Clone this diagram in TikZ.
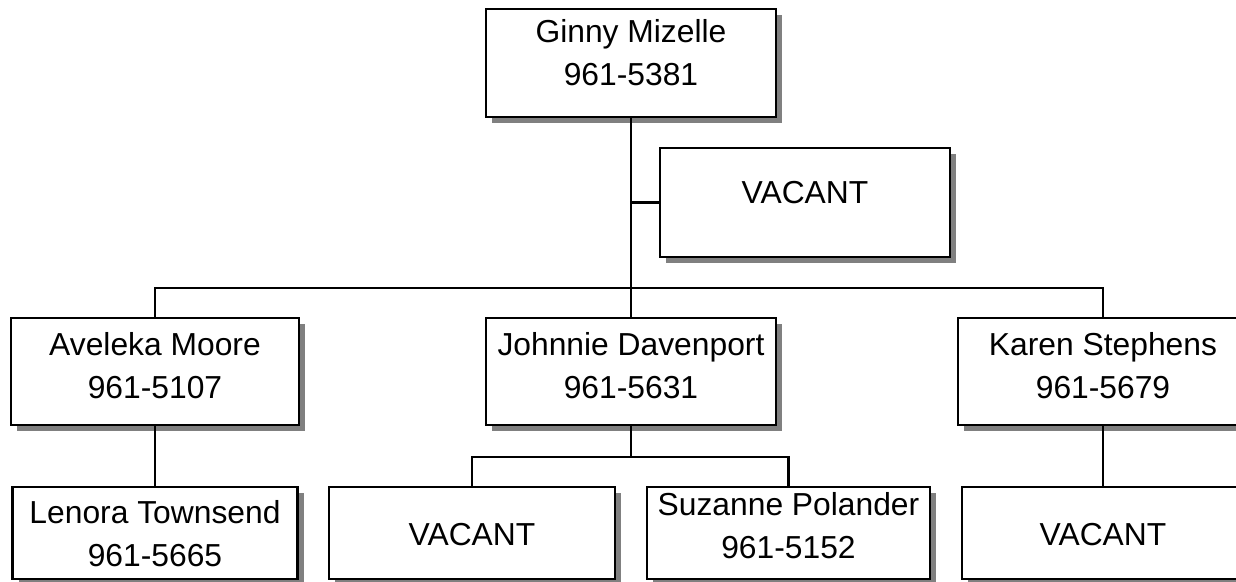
\documentclass[tikz,border=0pt]{standalone}
\usepackage{fontspec}
\setmainfont{Liberation Sans}
\usetikzlibrary{shadows}
\begin{document}
\begin{tikzpicture}[x=1pt,y=-1pt,
  box/.style={draw=black, line width=2.6pt, fill=white, rectangle, inner sep=0pt,
    drop shadow={shadow xshift=6pt, shadow yshift=-6pt, fill=black!50, opacity=1}},
  txt/.style={align=center, inner sep=0pt, font=\fontsize{31.8}{43}\selectfont},
  conn/.style={draw=black, line width=2.2pt}]
\clip (0,0) rectangle (1236,581);
\fill[white] (0,0) rectangle (1236,581);
% boxes
\node[box, minimum width=290pt, minimum height=108pt] (ginny) at (631,63) {};
\node[box, minimum width=290pt, minimum height=109pt] (vac1) at (805,202.5) {};
\node[box, minimum width=288pt, minimum height=107pt] (ave) at (155,371.5) {};
\node[box, minimum width=290pt, minimum height=107pt] (john) at (631,371.5) {};
\node[box, minimum width=290pt, minimum height=107pt] (karen) at (1103,371.5) {};
\node[box, minimum width=285pt, minimum height=92pt] (len) at (155,533) {};
\node[box, minimum width=286pt, minimum height=92pt] (vac2) at (472,533) {};
\node[box, minimum width=283pt, minimum height=92pt] (suz) at (788.5,533) {};
\node[box, minimum width=282pt, minimum height=92pt] (vac3) at (1103,533) {};
% texts
\node[txt] (tginny) at (631,53) {Ginny Mizelle\\961-5381};
\node[txt] (tvac1) at (805,193) {VACANT};
\node[txt] (tave) at (155,366) {Aveleka Moore\\961-5107};
\node[txt] (tjohn) at (631,366) {Johnnie Davenport\\961-5631};
\node[txt] (tkaren) at (1103,366) {Karen Stephens\\961-5679};
\node[txt] (tlen) at (155,534) {Lenora Townsend\\961-5665};
\node[txt] (tvac2) at (472,535) {VACANT};
\node[txt] (tsuz) at (788.5,526) {Suzanne Polander\\961-5152};
\node[txt] (tvac3) at (1103,535) {VACANT};
% connectors
\coordinate (bar) at (631,288);
\coordinate (jbar) at (631,457);
\draw[conn] (ginny.south) -- (bar);
\draw[conn] (ginny.south |- vac1.west) -- (vac1.west);
\draw[conn] (ave.north) |- (bar) -| (karen.north);
\draw[conn] (bar) -- (john.north);
\draw[conn] (ave.south) -- (len.north);
\draw[conn] (john.south) -- (jbar);
\draw[conn] (vac2.north) |- (jbar) -| (suz.north);
\draw[conn] (karen.south) -- (vac3.north);
\end{tikzpicture}
\end{document}
